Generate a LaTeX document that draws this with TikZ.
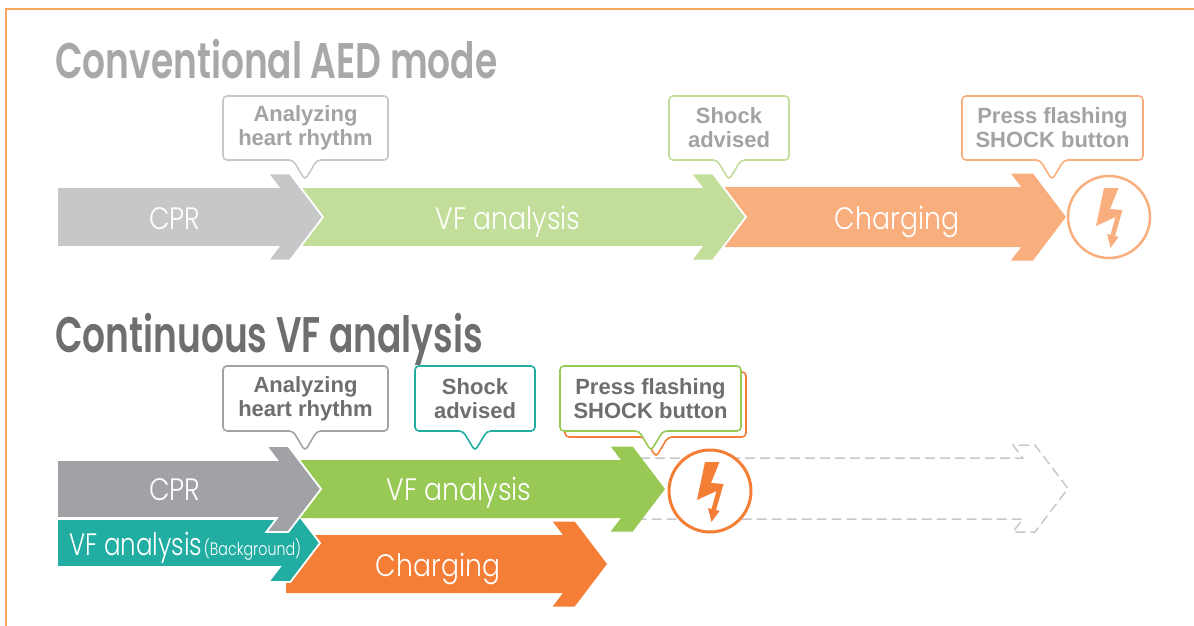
\documentclass[tikz,border=0pt]{standalone}
\usepackage{fontspec}
\setmainfont{Liberation Sans}
\IfFontExistsTF{Poppins SemiBold}{\newfontfamily\headfont{Poppins SemiBold}}{\newfontfamily\headfont{Poppins}[UprightFont=*-Bold]}
\IfFontExistsTF{Poppins Light}{\newfontfamily\barfont{Poppins Light}}{\newfontfamily\barfont{Poppins}}
\usepackage{xcolor}
\usepackage{tikz}

\definecolor{framec}{HTML}{F7A65F}
\definecolor{titlegray}{HTML}{A7A8AA}
\definecolor{titledark}{HTML}{6D6E70}
\definecolor{graylt}{HTML}{C6C7C9}
\definecolor{greenlt}{HTML}{C3DE9A}
\definecolor{orangelt}{HTML}{F9AE7D}
\definecolor{graydk}{HTML}{A1A2A5}
\definecolor{greendk}{HTML}{97C954}
\definecolor{tealdk}{HTML}{21ADA2}
\definecolor{orangedk}{HTML}{F47E36}
\definecolor{calltextlt}{HTML}{A3A3A3}
\definecolor{dashgray}{HTML}{C8C8C8}

\tikzset{
  headtext/.style={font=\headfont\fontsize{50}{50}\selectfont, anchor=base west, inner sep=0, xscale=.72},
  bartext/.style={text=white, font=\barfont\fontsize{31}{31}\selectfont, anchor=base, inner sep=0, xscale=.86},
  calltext/.style={align=center, font=\bfseries\fontsize{22}{24}\selectfont, inner sep=0},
  gap/.style={draw=white, line width=1.8},
}

% chevron arrow: style, left x, centre y, half body, tip x, half head
\newcommand{\flowarrow}[6]{%
  \pgfmathsetmacro{\arrfront}{#5-0.76*#6}%
  \pgfmathsetmacro{\arrback}{\arrfront-22}%
  \pgfmathsetmacro{\arrnotch}{\arrback+0.76*(#6-#4)}%
  \path[#1] (#2,#3-#4) -- (\arrnotch,#3-#4) -- (\arrback,#3-#6) -- (\arrfront,#3-#6) -- (#5,#3)
    -- (\arrfront,#3+#6) -- (\arrback,#3+#6) -- (\arrnotch,#3+#4) -- (#2,#3+#4) -- cycle;}

% callout box: style, x1, y1, x2, y2, pointer x
\newcommand{\callout}[6]{%
  \draw[#1, fill=white, line width=1.6, rounded corners=4pt] (#2,#3) -- (#4,#3) -- (#4,#5)
    -- (#6+12,#5) -- (#6,#5+20) -- (#6-12,#5) -- (#2,#5) -- cycle;}

% lightning bolt: colour, centre x, centre y
\newcommand{\bolt}[3]{%
  \fill[#1, shift={(#2,#3)}] (-5,-29) -- (9.5,-29) -- (1,-8) -- (13.5,-7) -- (6,19) -- (9.5,20)
    -- (1.5,31) -- (-2,17) -- (1.5,18) -- (6.5,0) -- (-13,9) -- cycle;}

\begin{document}
\begin{tikzpicture}[x=1pt, y=-1pt]
  \useasboundingbox (0,0) rectangle (1194,626);
  \draw[framec, line width=1.5] (6,640) -- (6,9) -- (1200,9);

  % Conventional AED mode
  \node[headtext, text=titlegray] (title1) at (55,78) {Conventional AED mode};
  \flowarrow{fill=orangelt}{700}{217}{30}{1066}{43.5}
  \flowarrow{fill=greenlt, gap}{280}{217}{30}{746}{43.5}
  \flowarrow{fill=graylt, gap}{57}{217}{30}{323}{43.5}
  \node[bartext] (cpr1) at (175,229) {CPR};
  \node[bartext] (vf1) at (508,229) {VF analysis};
  \node[bartext] (charge1) at (897,229) {Charging};
  \node[circle, draw=orangelt, line width=2.5, fill=white, minimum size=82, inner sep=0] (shock1) at (1109,217) {};
  \bolt{orangelt}{1109}{217}

  \callout{draw=graylt}{223}{96}{388}{160}{305}
  \node[calltext, text=calltextlt] (rhythm1) at (305.5,128) {Analyzing\\heart rhythm};
  \callout{draw=greenlt}{669}{96}{789}{160}{729}
  \node[calltext, text=calltextlt] (advised1) at (729,128) {Shock\\advised};
  \callout{draw=orangelt}{962}{96}{1143}{160}{1052}
  \node[calltext, text=calltextlt] (press1) at (1052.5,128) {Press flashing\\SHOCK button};

  % Continuous VF analysis
  \node[headtext, text=titledark] (title2) at (55,352) {Continuous VF analysis};
  \draw[dashgray, line width=1.5, dash pattern=on 10pt off 5pt] (640,458) -- (1022.8,458) -- (1012.9,445)
    -- (1034.9,445) -- (1068,488.5) -- (1034.9,532) -- (1012.9,532) -- (1022.8,519) -- (640,519);
  \flowarrow{fill=orangedk}{286}{564}{29}{607}{42.5}
  \flowarrow{fill=tealdk, gap}{57}{543}{24}{320}{39}
  \flowarrow{fill=greendk}{280}{489}{29}{665}{42.5}
  \flowarrow{fill=graydk, gap}{57}{489}{29}{321}{43}
  \node[bartext] (cpr2) at (175,500) {CPR};
  \node[bartext] (vf2) at (459,500) {VF analysis};
  \node[bartext] (charge2) at (438,576) {Charging};
  \node[bartext, anchor=base west, xscale=.92] (vfback) at (69,555) {VF analysis\kern2pt{\fontsize{18}{18}\selectfont(Background)}};
  \node[circle, draw=orangedk, line width=3, fill=white, minimum size=82, inner sep=0] (shock2) at (710,491) {};
  \bolt{orangedk}{710}{491}

  \callout{draw=graydk}{223}{366}{388}{431}{305}
  \node[calltext, text=titledark] (rhythm2) at (305.5,398.5) {Analyzing\\heart rhythm};
  \callout{draw=tealdk}{415}{366}{535}{431}{475}
  \node[calltext, text=titledark] (advised2) at (475,398.5) {Shock\\advised};
  \callout{draw=orangedk}{565}{372}{746}{437}{656}
  \callout{draw=greendk}{560}{366}{741}{431}{651}
  \node[calltext, text=titledark] (press2) at (650.5,398.5) {Press flashing\\SHOCK button};
\end{tikzpicture}
\end{document}
